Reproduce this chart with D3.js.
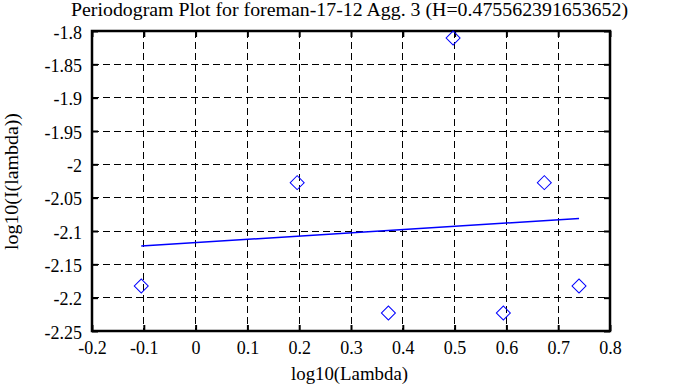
<!DOCTYPE html>
<html><head><meta charset="utf-8">
<script src="https://cdn.jsdelivr.net/npm/d3@7"></script>
<style>body{margin:0;background:#fff}svg{display:block}</style>
</head><body><svg id="c" width="673" height="387"></svg>
<script>
const title = "Periodogram Plot for foreman-17-12 Agg. 3 (H=0.475562391653652)";
const xLabel = "log10(Lambda)";
const yLabel = "log10(I(lambda))";
const pointX = [-0.1049, 0.1961, 0.3722, 0.4971, 0.5941, 0.6732, 0.7402];
const pointY = [-2.1825, -2.0275, -2.223, -1.8105, -2.223, -2.0275, -2.1825];
const fitX = [-0.1049, 0.7402];
const fitY = [-2.1225, -2.0812];
const xTicks = [-0.2, -0.1, 0, 0.1, 0.2, 0.3, 0.4, 0.5, 0.6, 0.7, 0.8];
const yTicks = [-1.8, -1.85, -1.9, -1.95, -2, -2.05, -2.1, -2.15, -2.2, -2.25];

const FONT = "Liberation Serif";
const svg = d3.select("#c");
const L = 92, R = 610, T = 31, B = 331;
const x = d3.scaleLinear().domain([-0.2, 0.8]).range([L, R]);
const y = d3.scaleLinear().domain([-2.25, -1.8]).range([B, T]);
const fmt = d => String(+d.toFixed(2));

const g = svg.append("g");
g.selectAll(".gx").data(xTicks.slice(1, -1)).join("line")
  .attr("x1", d => x(d)).attr("x2", d => x(d)).attr("y1", T).attr("y2", B)
  .attr("stroke", "#000").attr("stroke-width", 1).attr("stroke-dasharray", "7,4").attr("shape-rendering", "crispEdges");
g.selectAll(".gy").data(yTicks.slice(1, -1)).join("line")
  .attr("y1", d => y(d)).attr("y2", d => y(d)).attr("x1", L).attr("x2", R)
  .attr("stroke", "#000").attr("stroke-width", 1).attr("stroke-dasharray", "7,4").attr("shape-rendering", "crispEdges");

const tl = 6;
const ax = svg.append("g").attr("transform", `translate(0,${B})`)
  .call(d3.axisBottom(x).tickValues(xTicks).tickFormat(fmt).tickSizeInner(-tl).tickSizeOuter(0).tickPadding(0));
const axT = svg.append("g").attr("transform", `translate(0,${T})`)
  .call(d3.axisTop(x).tickValues(xTicks).tickFormat("").tickSizeInner(-tl).tickSizeOuter(0));
const ay = svg.append("g").attr("transform", `translate(${L},0)`)
  .call(d3.axisLeft(y).tickValues(yTicks).tickFormat(fmt).tickSizeInner(-tl).tickSizeOuter(0).tickPadding(10));
const ayR = svg.append("g").attr("transform", `translate(${R},0)`)
  .call(d3.axisRight(y).tickValues(yTicks).tickFormat("").tickSizeInner(-tl).tickSizeOuter(0));
[ax, axT, ay, ayR].forEach(a => {
  a.attr("font-family", FONT).attr("font-size", 18);
  a.select(".domain").remove();
  a.selectAll(".tick line").attr("stroke", "#000").attr("stroke-width", 2);
  a.selectAll("text").attr("fill", "#000").style("font-family", FONT);
});
ay.selectAll("text").attr("dy", null).attr("y", 7);
ax.selectAll("text").attr("dy", null).attr("y", 23);

svg.append("rect").attr("x", L).attr("y", T).attr("width", R - L).attr("height", B - T)
  .attr("fill", "none").attr("stroke", "#000").attr("stroke-width", 2.5);

const pts = fitX.map((d, i) => [x(d), y(fitY[i])]);
svg.append("path").attr("d", d3.line()(pts)).attr("stroke", "#0000ff").attr("stroke-width", 1.5).attr("fill", "none");

const sym = d3.symbol().type(d3.symbolSquare).size(98);
svg.selectAll(".pt").data(pointX).join("path")
  .attr("d", sym)
  .attr("transform", (d, i) => `translate(${x(d)},${y(pointY[i])}) rotate(45)`)
  .attr("fill", "none").attr("stroke", "#0000ff").attr("stroke-width", 1);

svg.append("text").attr("x", 71).attr("y", 16).attr("font-size", 18)
  .attr("textLength", 557).attr("lengthAdjust", "spacingAndGlyphs").style("font-family", FONT).text(title);
svg.append("text").attr("x", 291).attr("y", 380).attr("font-size", 18)
  .attr("textLength", 117).attr("lengthAdjust", "spacingAndGlyphs").style("font-family", FONT).text(xLabel);
svg.append("text").attr("transform", "translate(18,250) rotate(-90)").attr("font-size", 18)
  .attr("textLength", 137).attr("lengthAdjust", "spacingAndGlyphs").style("font-family", FONT).text(yLabel);
</script></body></html>
